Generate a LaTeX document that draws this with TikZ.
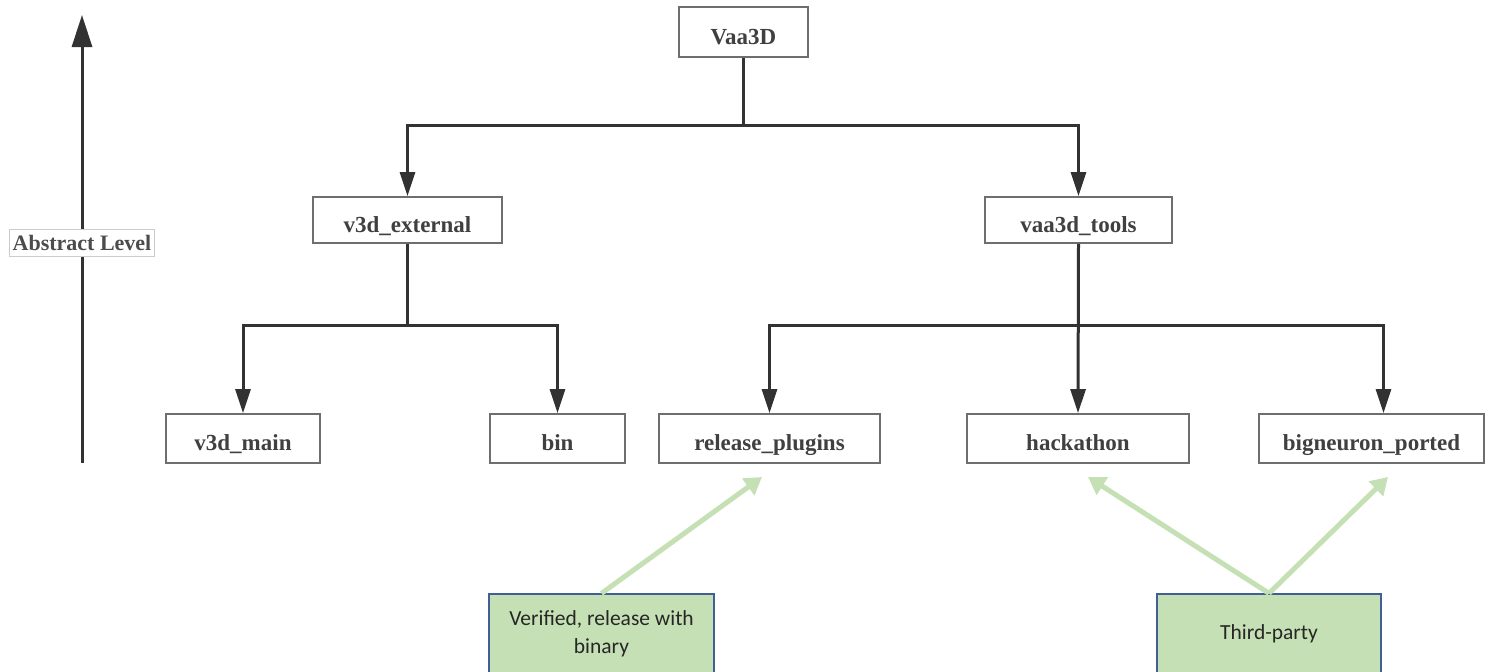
\documentclass[tikz,border=0pt]{standalone}
\usepackage{fontspec}
\setmainfont{Liberation Serif}
\newfontfamily\calib{Carlito}
\usetikzlibrary{arrows.meta}
\definecolor{boxgray}{RGB}{110,110,110}
\definecolor{linegray}{RGB}{50,50,50}
\definecolor{gfill}{RGB}{197,224,180}
\definecolor{gline}{RGB}{65,95,150}
\definecolor{garrow}{RGB}{197,224,180}
\tikzset{
  tbox/.style={draw=boxgray, line width=1.8pt, fill=white, font=\bfseries\fontsize{23}{26}\selectfont, text=black!75, inner sep=0pt, text height=27pt, text depth=3pt, anchor=center},
  gbox/.style={draw=gline, line width=1.4pt, fill=gfill, font=\calib\fontsize{21.5}{28}\selectfont, text=black!85, align=center, inner sep=0pt},
  conn/.style={draw=linegray, line width=3pt, -{Triangle[length=24pt,width=15pt]}},
  plain/.style={draw=linegray, line width=3pt},
  garr/.style={draw=garrow, line width=5pt, -{Triangle[length=17pt,width=20pt]}},
}
\begin{document}
\begin{tikzpicture}[x=1pt,y=-1pt]
\useasboundingbox (0,0) rectangle (1486,672);
% nodes
\node[tbox, minimum width=129pt, minimum height=50pt] (vaa) at (743.5,32) {Vaa3D};
\node[tbox, minimum width=189pt, minimum height=46pt] (ext) at (407.5,220) {v3d\_external};
\node[tbox, minimum width=187pt, minimum height=46pt] (tools) at (1078.5,220) {vaa3d\_tools};
\node[tbox, minimum width=154pt, minimum height=49pt] (main) at (243,438.5) {v3d\_main};
\node[tbox, minimum width=135pt, minimum height=49pt] (bin) at (557.5,438.5) {bin};
\node[tbox, minimum width=221pt, minimum height=49pt] (rel) at (769.5,438.5) {release\_plugins};
\node[tbox, minimum width=222pt, minimum height=49pt] (hack) at (1078,438.5) {hackathon};
\node[tbox, minimum width=225pt, minimum height=49pt] (big) at (1371.5,438.5) {bigneuron\_ported};
\node[gbox, minimum width=225pt, minimum height=80pt] (ver) at (601.5,634) {Verified, release with\\binary};
\node[gbox, minimum width=224pt, minimum height=80pt] (third) at (1269,634) {Third-party};
% coordinates
\coordinate (j1) at (743.5,125);
\coordinate (j2) at (407.5,325);
\coordinate (j3) at (1078.5,325);
% tree connectors
\draw[plain] (vaa.south) -- (j1);
\draw[conn] (j1) -| (ext.north);
\draw[conn] (j1) -| (tools.north);
\draw[plain] (ext.south) -- (j2);
\draw[conn] (j2) -| (main.north);
\draw[conn] (j2) -| (bin.north);
\draw[plain] (tools.south) -- (j3);
\draw[conn] (j3) -| (rel.north);
\draw[conn] (tools.south) -- (hack.north);
\draw[conn] (j3) -| ([xshift=12pt]big.north);
% abstract level
\coordinate (ab) at (82,463);
\coordinate (at) at (82,15);
\draw[draw=linegray, line width=3pt, -{Triangle[length=32pt,width=20pt]}] (ab) -- (at);
\node[draw=black!20, line width=0.8pt, fill=white, font=\bfseries\fontsize{22}{24}\selectfont, text=black!70, inner sep=0pt, minimum width=145pt, minimum height=27pt] (abs) at (82,243) {Abstract Level};
% green arrows
\coordinate (t1) at (762,477);
\coordinate (t2) at (1088,477);
\coordinate (t3) at (1388,477);
\draw[garr] (ver.north) -- (t1);
\draw[garr] (third.north) -- (t2);
\draw[garr] (third.north) -- (t3);
\end{tikzpicture}
\end{document}
